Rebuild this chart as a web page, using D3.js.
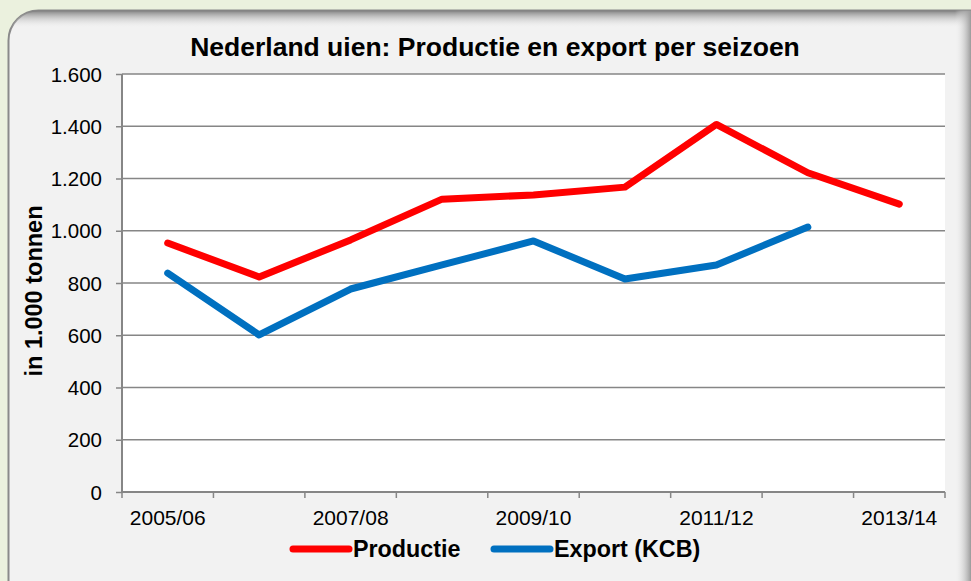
<!DOCTYPE html>
<html><head><meta charset="utf-8">
<script src="https://cdn.jsdelivr.net/npm/d3@7"></script>
<style>body{margin:0;background:#ebf1de;}svg{display:block;}</style>
</head><body>
<svg id="c" width="971" height="581"></svg>
<script>
const seasons = ["2005/06","2006/07","2007/08","2008/09","2009/10","2010/11","2011/12","2012/13","2013/14"];
const productie = [953, 823, 965, 1121, 1137, 1167, 1407, 1222, 1102];
const exportKCB = [838, 601, 777, 869, 961, 815, 869, 1014];
const yTicks = [0,200,400,600,800,1000,1200,1400,1600];
const shownLabels = ["2005/06","2007/08","2009/10","2011/12","2013/14"];
const seriesNames = ["Productie","Export (KCB)"];
const colors = ["#ff0000","#0070c0"];
const FONT = "'Liberation Sans', Arial, sans-serif";

const svg = d3.select("#c");
const defs = svg.append("defs");
const tg = defs.append("linearGradient").attr("id","tg").attr("x1",0).attr("y1",0).attr("x2",0).attr("y2",1);
tg.append("stop").attr("offset","0").attr("stop-color","#7a7a7a").attr("stop-opacity",1);
tg.append("stop").attr("offset","1").attr("stop-color","#f2f2f2").attr("stop-opacity",0);
const rg = defs.append("linearGradient").attr("id","rg").attr("x1",0).attr("y1",0).attr("x2",1).attr("y2",0);
rg.append("stop").attr("offset","0").attr("stop-color","#f2f2f2").attr("stop-opacity",0);
rg.append("stop").attr("offset","1").attr("stop-color","#9a9a9a").attr("stop-opacity",1);
const cp = defs.append("clipPath").attr("id","pc");
cp.append("rect").attr("x",8.5).attr("y",10.5).attr("width",990).attr("height",600).attr("rx",30);

svg.append("rect").attr("x",8.5).attr("y",10.5).attr("width",990).attr("height",600).attr("rx",30)
  .attr("fill","#f2f2f2").attr("stroke","#8a8a8a").attr("stroke-width",2);
const sh = svg.append("g").attr("clip-path","url(#pc)");
sh.append("rect").attr("x",8).attr("y",10).attr("width",990).attr("height",18).attr("fill","url(#tg)");
sh.append("rect").attr("x",955).attr("y",10).attr("width",16).attr("height",600).attr("fill","url(#rg)");

const L = 122, R = 945, T = 74, B = 492;
const x = d3.scaleBand().domain(seasons).range([L,R]);
const y = d3.scaleLinear().domain([0,1600]).range([B,T]);

svg.append("rect").attr("x",L).attr("y",T).attr("width",R-L).attr("height",B-T).attr("fill","#fff");

// grid
svg.append("g").selectAll("line").data(yTicks.filter(d=>d>0)).join("line")
  .attr("x1",L).attr("x2",R).attr("y1",d=>y(d)).attr("y2",d=>y(d))
  .attr("stroke","#868686").attr("stroke-width",1.5);

// y axis
const yAxis = svg.append("g").attr("transform",`translate(${L},0)`)
  .call(d3.axisLeft(y).tickValues(yTicks).tickSize(6).tickPadding(14)
    .tickFormat(d=>d3.format(",")(d).replace(/,/g,".")));
yAxis.select(".domain").attr("stroke","#868686").attr("stroke-width",2).attr("d",`M0,${T}V${B}`);
yAxis.selectAll(".tick line").attr("stroke","#868686").attr("stroke-width",1.5);
yAxis.selectAll("text").attr("font-family",FONT).attr("font-size",20.5).attr("fill","#000").attr("dy","0.35em");

// x axis
const xAxis = svg.append("g").attr("transform",`translate(0,${B})`)
  .call(d3.axisBottom(x).tickSize(0).tickPadding(0).tickFormat(d=>shownLabels.includes(d)?d:""));
xAxis.select(".domain").attr("stroke","#868686").attr("stroke-width",2).attr("d",`M${L},0H${R}`);
xAxis.selectAll("text").attr("font-family",FONT).attr("font-size",21).attr("fill","#000")
  .attr("y",33).attr("dy",0);
const bounds = seasons.map(s=>x(s)).concat([R]);
xAxis.append("g").selectAll("line").data(bounds).join("line")
  .attr("x1",d=>d).attr("x2",d=>d).attr("y1",0).attr("y2",6)
  .attr("stroke","#868686").attr("stroke-width",1.5);

// lines
const line = d3.line().x((d,i)=>x(seasons[i])+x.bandwidth()/2).y(d=>y(d));
[productie, exportKCB].forEach((s,i)=>{
  svg.append("path").attr("d",line(s)).attr("fill","none").attr("stroke",colors[i])
    .attr("stroke-width",7).attr("stroke-linecap","round").attr("stroke-linejoin","round");
});

// title
svg.append("text").attr("x",495).attr("y",56).attr("text-anchor","middle")
  .attr("font-family",FONT).attr("font-weight","bold").attr("font-size",26.5)
  .text("Nederland uien: Productie en export per seizoen");

// y label
svg.append("text").attr("transform","translate(42,291) rotate(-90)").attr("text-anchor","middle")
  .attr("font-family",FONT).attr("font-weight","bold").attr("font-size",23.5)
  .text("in 1.000 tonnen");

// legend
const lx = [293, 494];
seriesNames.forEach((n,i)=>{
  svg.append("line").attr("x1",lx[i]).attr("x2",lx[i]+56).attr("y1",549).attr("y2",549)
    .attr("stroke",colors[i]).attr("stroke-width",7).attr("stroke-linecap","round");
  svg.append("text").attr("x",lx[i]+60).attr("y",557)
    .attr("font-family",FONT).attr("font-weight","bold").attr("font-size",23.3)
    .text(n);
});
</script>
</body></html>
